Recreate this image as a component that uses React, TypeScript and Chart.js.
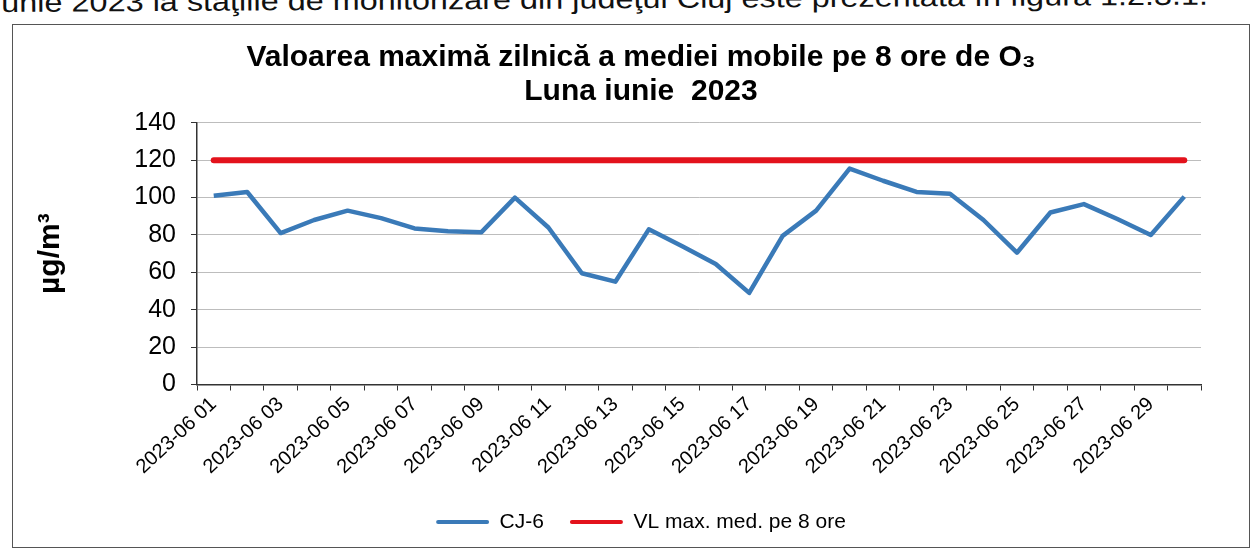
import React, { useEffect, useRef } from 'react';
import { Chart, registerables } from 'chart.js';

Chart.register(...registerables);

const categories = [
  '2023-06 01', '2023-06 02', '2023-06 03', '2023-06 04', '2023-06 05',
  '2023-06 06', '2023-06 07', '2023-06 08', '2023-06 09', '2023-06 10',
  '2023-06 11', '2023-06 12', '2023-06 13', '2023-06 14', '2023-06 15',
  '2023-06 16', '2023-06 17', '2023-06 18', '2023-06 19', '2023-06 20',
  '2023-06 21', '2023-06 22', '2023-06 23', '2023-06 24', '2023-06 25',
  '2023-06 26', '2023-06 27', '2023-06 28', '2023-06 29', '2023-06 30',
];

const cj6Values = [
  101, 103, 81, 88, 93, 89, 83.5, 82, 81.5, 100,
  84, 59.5, 55, 83, 74, 64.5, 49, 79.5, 93, 115.5,
  109, 103, 102, 88, 70.5, 92, 96.5, 88.5, 80, 100.5,
];

const limitValues = [
  120, 120, 120, 120, 120, 120, 120, 120, 120, 120,
  120, 120, 120, 120, 120, 120, 120, 120, 120, 120,
  120, 120, 120, 120, 120, 120, 120, 120, 120, 120,
];

const yTicks = [0, 20, 40, 60, 80, 100, 120, 140];

const seriesNames = ['CJ-6', 'VL max. med. pe 8 ore'];
const titleLines = ['Valoarea maximă zilnică a mediei mobile pe 8 ore de O₃', 'Luna iunie  2023'];
const yTitle = 'µg/m³';
const headerText = 'iunie 2023 la staţiile de monitorizare din judeţul Cluj este prezentată în figura 1.2.3.1.';

const FONT = "'Liberation Sans', Arial, Helvetica, sans-serif";
const BLUE = '#3a7ab8';
const RED = '#e3121c';

export default function App() {
  const ref = useRef<HTMLCanvasElement>(null);

  useEffect(() => {
    const canvas = ref.current;
    if (!canvas) return;
    const chart = new Chart(canvas, {
      type: 'line',
      data: {
        labels: categories,
        datasets: [
          {
            label: seriesNames[0],
            data: cj6Values,
            borderColor: BLUE,
            backgroundColor: BLUE,
            borderWidth: 4.5,
            pointRadius: 0,
            tension: 0,
            borderJoinStyle: 'round',
          },
          {
            label: seriesNames[1],
            data: limitValues,
            borderColor: RED,
            backgroundColor: RED,
            borderWidth: 6,
            pointRadius: 0,
            tension: 0,
            borderCapStyle: 'round',
          },
        ],
      },
      options: {
        responsive: false,
        animation: false,
        devicePixelRatio: 1,
        layout: { padding: { left: 10, right: 0, top: 31, bottom: 10.5 } },
        plugins: {
          title: {
            display: true,
            text: titleLines,
            color: '#000',
            font: { family: FONT, size: 30, weight: 'bold', lineHeight: 1.13 },
            padding: { top: 10, bottom: 14 },
          },
          legend: {
            position: 'bottom',
            labels: {
              color: '#000',
              font: { family: FONT, size: 21 },
              boxWidth: 53,
              boxHeight: 4,
              padding: 26,
              generateLabels: (c: any) =>
                c.data.datasets.map((ds: any, i: number) => ({
                  text: ds.label,
                  fillStyle: ds.borderColor,
                  strokeStyle: ds.borderColor,
                  lineWidth: 0,
                  hidden: false,
                  datasetIndex: i,
                  borderRadius: 2,
                  fontColor: '#000',
                })),
            },
          },
          tooltip: { enabled: false },
        },
        scales: {
          x: {
            type: 'category',
            offset: true,
            grid: {
              offset: true,
              drawOnChartArea: false,
              drawTicks: true,
              tickLength: 6,
              tickColor: '#333',
              color: '#333',
              lineWidth: 1,
            },
            border: { display: true, color: '#333', width: 1.5 },
            ticks: {
              autoSkip: false,
              minRotation: 43,
              maxRotation: 43,
              padding: 2,
              color: '#000',
              font: { family: FONT, size: 20 },
              callback: (_v: any, i: number) => (i % 2 === 0 ? categories[i] : ''),
            },
            afterFit: (s: any) => {
              s.height = 101;
            },
          },
          y: {
            type: 'linear',
            min: yTicks[0],
            max: yTicks[yTicks.length - 1],
            afterBuildTicks: (s: any) => {
              s.ticks = yTicks.map((v) => ({ value: v }));
            },
            ticks: {
              padding: 15,
              color: '#000',
              font: { family: FONT, size: 25 },
            },
            grid: {
              color: '#bdbdbd',
              lineWidth: 1,
              tickColor: '#333',
              tickLength: 6,
            },
            border: { display: true, color: '#333', width: 1.5 },
            title: {
              display: true,
              text: yTitle,
              color: '#000',
              font: { family: FONT, size: 30, weight: 'bold' },
              padding: { top: 23, bottom: 0 },
            },
            afterFit: (s: any) => {
              s.width = 187;
            },
          },
          yRight: {
            type: 'linear',
            position: 'right',
            display: true,
            grid: { display: false, drawTicks: false },
            border: { display: false },
            ticks: { display: false },
            afterFit: (s: any) => {
              s.width = 71;
            },
          },
        },
      },
    } as any);
    return () => chart.destroy();
  }, []);

  return (
    <div
      style={{
        position: 'absolute',
        left: 0,
        top: 0,
        width: 1255,
        height: 553,
        overflow: 'hidden',
        background: '#fff',
      }}
    >
      <div
        style={{
          position: 'absolute',
          left: -6,
          top: -10,
          whiteSpace: 'nowrap',
          fontFamily: FONT,
          fontSize: 27,
          lineHeight: '27px',
          color: '#111',
          transform: 'rotate(-0.35deg) scaleX(1.2)',
          transformOrigin: 'left top',
        }}
      >
        {headerText}
      </div>
      <div
        style={{
          position: 'absolute',
          left: 12,
          top: 24,
          width: 1236,
          height: 522,
          border: '1.5px solid #555',
        }}
      />
      <canvas
        ref={ref}
        width={1272}
        height={553}
        style={{ position: 'absolute', left: 0, top: 0, width: 1272, height: 553 }}
      />
    </div>
  );
}
